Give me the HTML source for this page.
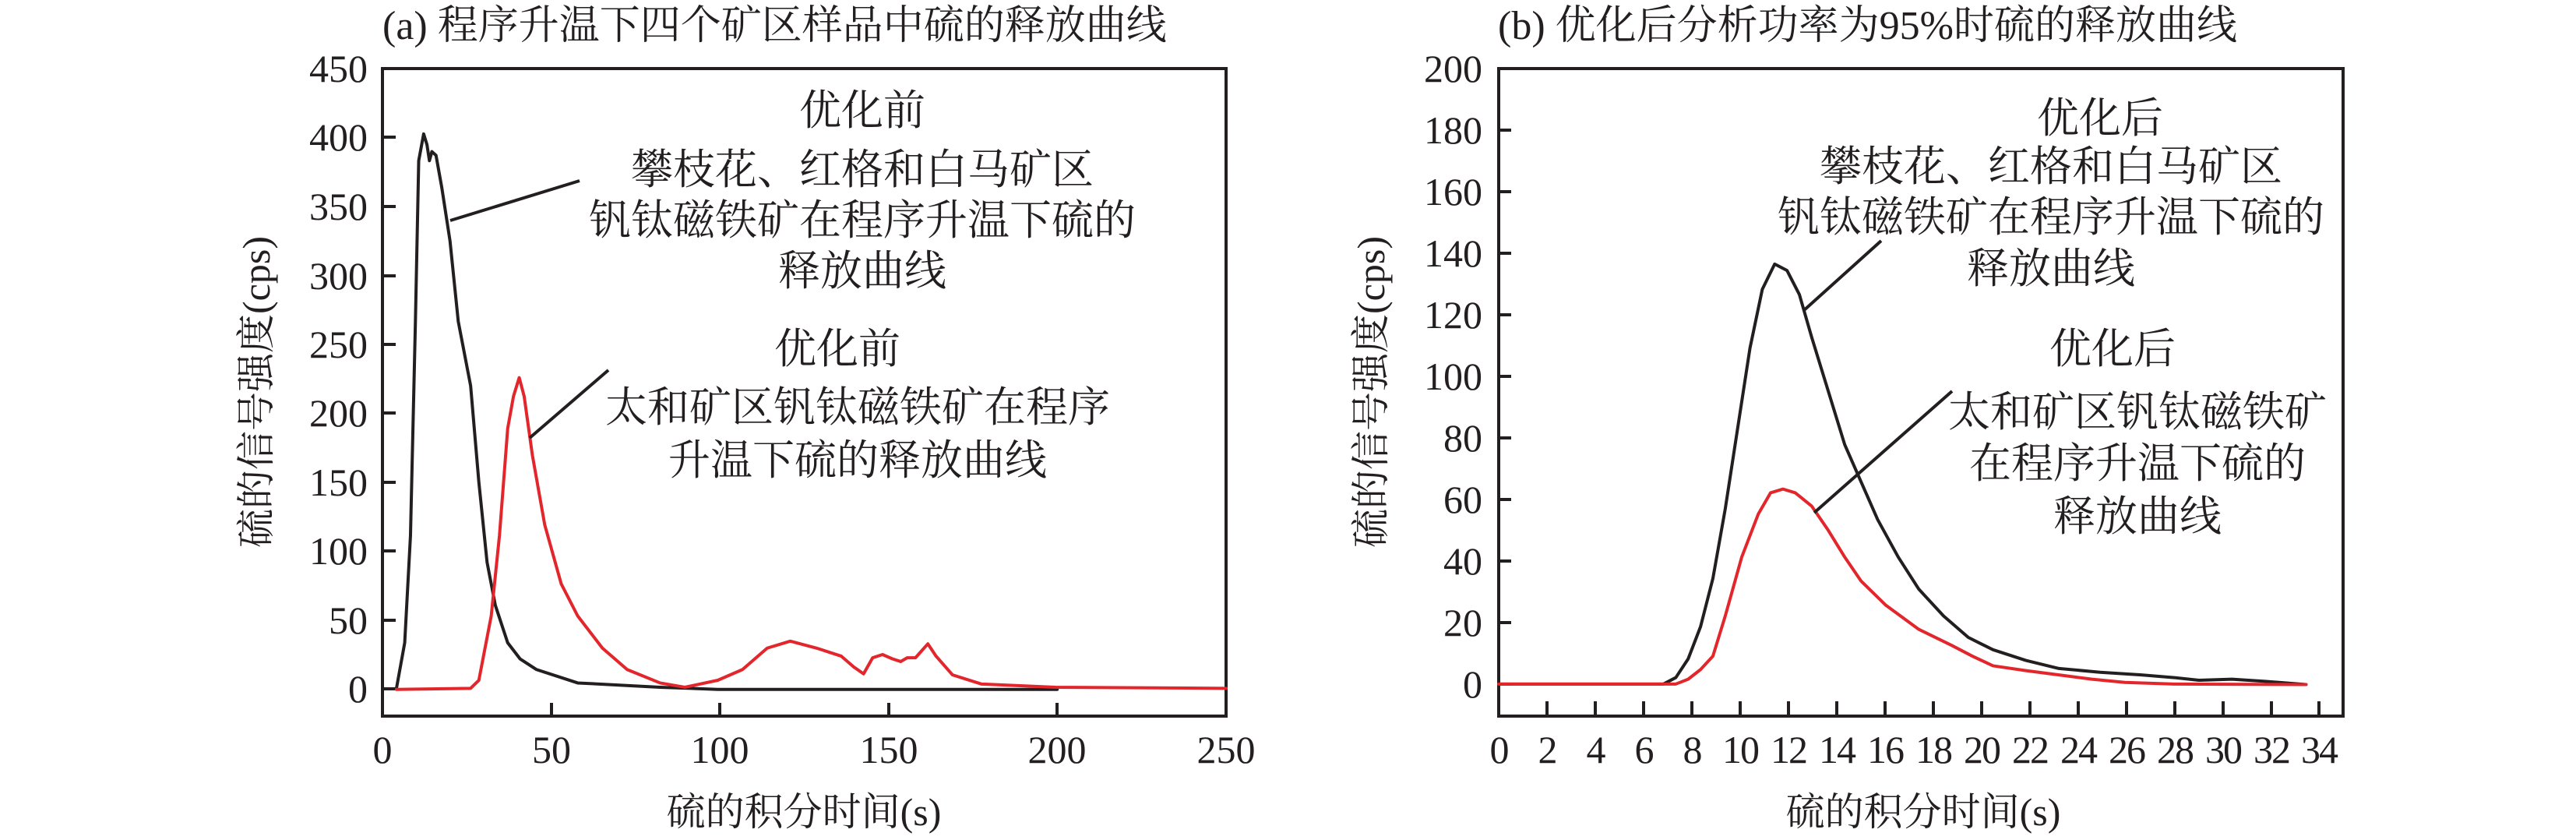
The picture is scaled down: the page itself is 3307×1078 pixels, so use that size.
<!DOCTYPE html>
<html><head><meta charset="utf-8"><style>
html,body{margin:0;padding:0;background:#fff;}
svg{display:block;}
text{font-family:"Liberation Serif","Noto Serif CJK SC",serif;fill:#231f20;}
</style></head><body>
<svg width="3307" height="1078" viewBox="0 0 3307 1078" xmlns="http://www.w3.org/2000/svg">
<!-- Panel A -->
<text x="491" y="50" font-size="52">(a) 程序升温下四个矿区样品中硫的释放曲线</text>
<rect x="491" y="88" width="1083" height="831" fill="none" stroke="#231f20" stroke-width="4"/>
<g stroke="#231f20" stroke-width="4">
<line x1="491" y1="884" x2="508" y2="884"/><line x1="491" y1="796" x2="508" y2="796"/>
<line x1="491" y1="707" x2="508" y2="707"/><line x1="491" y1="619" x2="508" y2="619"/>
<line x1="491" y1="530" x2="508" y2="530"/><line x1="491" y1="442" x2="508" y2="442"/>
<line x1="491" y1="354" x2="508" y2="354"/><line x1="491" y1="265" x2="508" y2="265"/>
<line x1="491" y1="176" x2="508" y2="176"/>
<line x1="708" y1="919" x2="708" y2="902"/><line x1="924" y1="919" x2="924" y2="902"/>
<line x1="1141" y1="919" x2="1141" y2="902"/><line x1="1357" y1="919" x2="1357" y2="902"/>
</g>
<g font-size="50" text-anchor="end">
<text x="472" y="901">0</text><text x="472" y="813">50</text><text x="472" y="724">100</text>
<text x="472" y="636">150</text><text x="472" y="547">200</text><text x="472" y="459">250</text>
<text x="472" y="371">300</text><text x="472" y="282">350</text><text x="472" y="193">400</text>
<text x="472" y="105">450</text>
</g>
<g font-size="50" text-anchor="middle">
<text x="491" y="979">0</text><text x="708" y="979">50</text><text x="924" y="979">100</text>
<text x="1141" y="979">150</text><text x="1357" y="979">200</text><text x="1574" y="979">250</text>
</g>
<text x="1032" y="1059" font-size="50" text-anchor="middle">硫的积分时间(s)</text>
<text transform="translate(346,503) rotate(-90)" font-size="50" text-anchor="middle">硫的信号强度(cps)</text>
<g transform="translate(1.331,0.0128) scale(1.0576,0.6874)" fill="none" stroke-linejoin="round" stroke-linecap="round">
<polyline vector-effect="non-scaling-stroke" stroke="#231f20" stroke-width="4" points="480,1285 490,1200 497,1000 503,600 507,300 513,250 517,270 520,300 523,283 528,290 535,350 545,450 555,600 570,720 580,900 590,1050 600,1130 615,1200 630,1230 650,1250 700,1275 800,1283 870,1287 1282,1287"/>
<polyline vector-effect="non-scaling-stroke" stroke="#e3262b" stroke-width="4" points="480,1287 570,1285 580,1270 595,1150 605,1000 615,800 622,740 629,705 635,740 645,850 660,980 680,1090 700,1150 730,1210 760,1250 800,1275 830,1283 870,1270 900,1250 930,1210 958,1197 990,1210 1020,1225 1035,1245 1047,1258 1058,1228 1070,1222 1082,1230 1092,1235 1100,1228 1110,1228 1125,1202 1135,1225 1155,1260 1190,1277 1280,1283 1487,1285"/>
</g>
<g stroke="#231f20" stroke-width="4">
<line x1="578" y1="283" x2="744" y2="232"/>
<line x1="680" y1="562" x2="781" y2="475"/>
</g>
<g font-size="54" text-anchor="middle">
<text x="1107" y="160">优化前</text>
<text x="1107" y="236">攀枝花、红格和白马矿区</text>
<text x="1107" y="301">钒钛磁铁矿在程序升温下硫的</text>
<text x="1107" y="366">释放曲线</text>
<text x="1075" y="466">优化前</text>
<text x="1101" y="541">太和矿区钒钛磁铁矿在程序</text>
<text x="1101" y="609">升温下硫的释放曲线</text>
</g>

<!-- Panel B -->
<text x="1923" y="50" font-size="52">(b) 优化后分析功率为95%时硫的释放曲线</text>
<rect x="1924" y="88" width="1084" height="831" fill="none" stroke="#231f20" stroke-width="4"/>
<g stroke="#231f20" stroke-width="4">
<line x1="1924" y1="878" x2="1940" y2="878"/><line x1="1924" y1="799" x2="1940" y2="799"/>
<line x1="1924" y1="720" x2="1940" y2="720"/><line x1="1924" y1="641" x2="1940" y2="641"/>
<line x1="1924" y1="562" x2="1940" y2="562"/><line x1="1924" y1="483" x2="1940" y2="483"/>
<line x1="1924" y1="404" x2="1940" y2="404"/><line x1="1924" y1="325" x2="1940" y2="325"/>
<line x1="1924" y1="246" x2="1940" y2="246"/><line x1="1924" y1="167" x2="1940" y2="167"/>
</g>
<g stroke="#231f20" stroke-width="4">
<line x1="1986" y1="919" x2="1986" y2="900"/><line x1="2048" y1="919" x2="2048" y2="900"/>
<line x1="2110" y1="919" x2="2110" y2="900"/><line x1="2172" y1="919" x2="2172" y2="900"/>
<line x1="2234" y1="919" x2="2234" y2="900"/><line x1="2296" y1="919" x2="2296" y2="900"/>
<line x1="2358" y1="919" x2="2358" y2="900"/><line x1="2420" y1="919" x2="2420" y2="900"/>
<line x1="2482" y1="919" x2="2482" y2="900"/><line x1="2544" y1="919" x2="2544" y2="900"/>
<line x1="2606" y1="919" x2="2606" y2="900"/><line x1="2668" y1="919" x2="2668" y2="900"/>
<line x1="2730" y1="919" x2="2730" y2="900"/><line x1="2792" y1="919" x2="2792" y2="900"/>
<line x1="2854" y1="919" x2="2854" y2="900"/><line x1="2916" y1="919" x2="2916" y2="900"/>
<line x1="2977" y1="919" x2="2977" y2="900"/>
</g>
<g font-size="50" text-anchor="end">
<text x="1903" y="895">0</text><text x="1903" y="816">20</text><text x="1903" y="737">40</text>
<text x="1903" y="658">60</text><text x="1903" y="579">80</text><text x="1903" y="500">100</text>
<text x="1903" y="421">120</text><text x="1903" y="342">140</text><text x="1903" y="263">160</text>
<text x="1903" y="184">180</text><text x="1903" y="105">200</text>
</g>
<g font-size="50" text-anchor="middle" letter-spacing="-2">
<text x="1924" y="979">0</text><text x="1986" y="979">2</text><text x="2048" y="979">4</text>
<text x="2110" y="979">6</text><text x="2172" y="979">8</text><text x="2234" y="979">10</text>
<text x="2296" y="979">12</text><text x="2358" y="979">14</text><text x="2420" y="979">16</text>
<text x="2482" y="979">18</text><text x="2544" y="979">20</text><text x="2606" y="979">22</text>
<text x="2668" y="979">24</text><text x="2730" y="979">26</text><text x="2792" y="979">28</text>
<text x="2854" y="979">30</text><text x="2916" y="979">32</text><text x="2977" y="979">34</text>
</g>
<text x="2469" y="1059" font-size="50" text-anchor="middle">硫的积分时间(s)</text>
<text transform="translate(1777,503) rotate(-90)" font-size="50" text-anchor="middle">硫的信号强度(cps)</text>
<g transform="translate(1649.02,0.0128) scale(1.0576,0.6874)" fill="none" stroke-linejoin="round" stroke-linecap="round">
<polyline vector-effect="non-scaling-stroke" stroke="#231f20" stroke-width="4" points="260,1277 460,1277 475,1265 490,1230 505,1170 520,1080 535,950 550,800 565,650 580,540 595,493 610,505 625,550 640,630 660,730 680,830 700,900 720,970 745,1040 770,1100 800,1150 830,1190 860,1213 900,1233 940,1248 990,1255 1040,1260 1080,1265 1110,1270 1150,1268 1190,1272 1240,1278"/>
<polyline vector-effect="non-scaling-stroke" stroke="#e3262b" stroke-width="4" points="260,1277 475,1277 490,1268 505,1250 520,1225 535,1150 555,1040 575,960 590,920 605,913 620,920 640,945 660,990 680,1040 700,1085 730,1130 770,1175 810,1205 835,1225 860,1243 900,1252 940,1260 980,1268 1020,1274 1080,1277 1240,1278"/>
</g>
<g stroke="#231f20" stroke-width="4">
<line x1="2315" y1="399" x2="2415" y2="309"/>
<line x1="2329" y1="658" x2="2506" y2="502"/>
</g>
<g font-size="54" text-anchor="middle">
<text x="2696" y="170">优化后</text>
<text x="2633" y="232">攀枝花、红格和白马矿区</text>
<text x="2633" y="297">钒钛磁铁矿在程序升温下硫的</text>
<text x="2633" y="363">释放曲线</text>
<text x="2712" y="466">优化后</text>
<text x="2744" y="547">太和矿区钒钛磁铁矿</text>
<text x="2744" y="613">在程序升温下硫的</text>
<text x="2744" y="681">释放曲线</text>
</g>
</svg>
</body></html>
